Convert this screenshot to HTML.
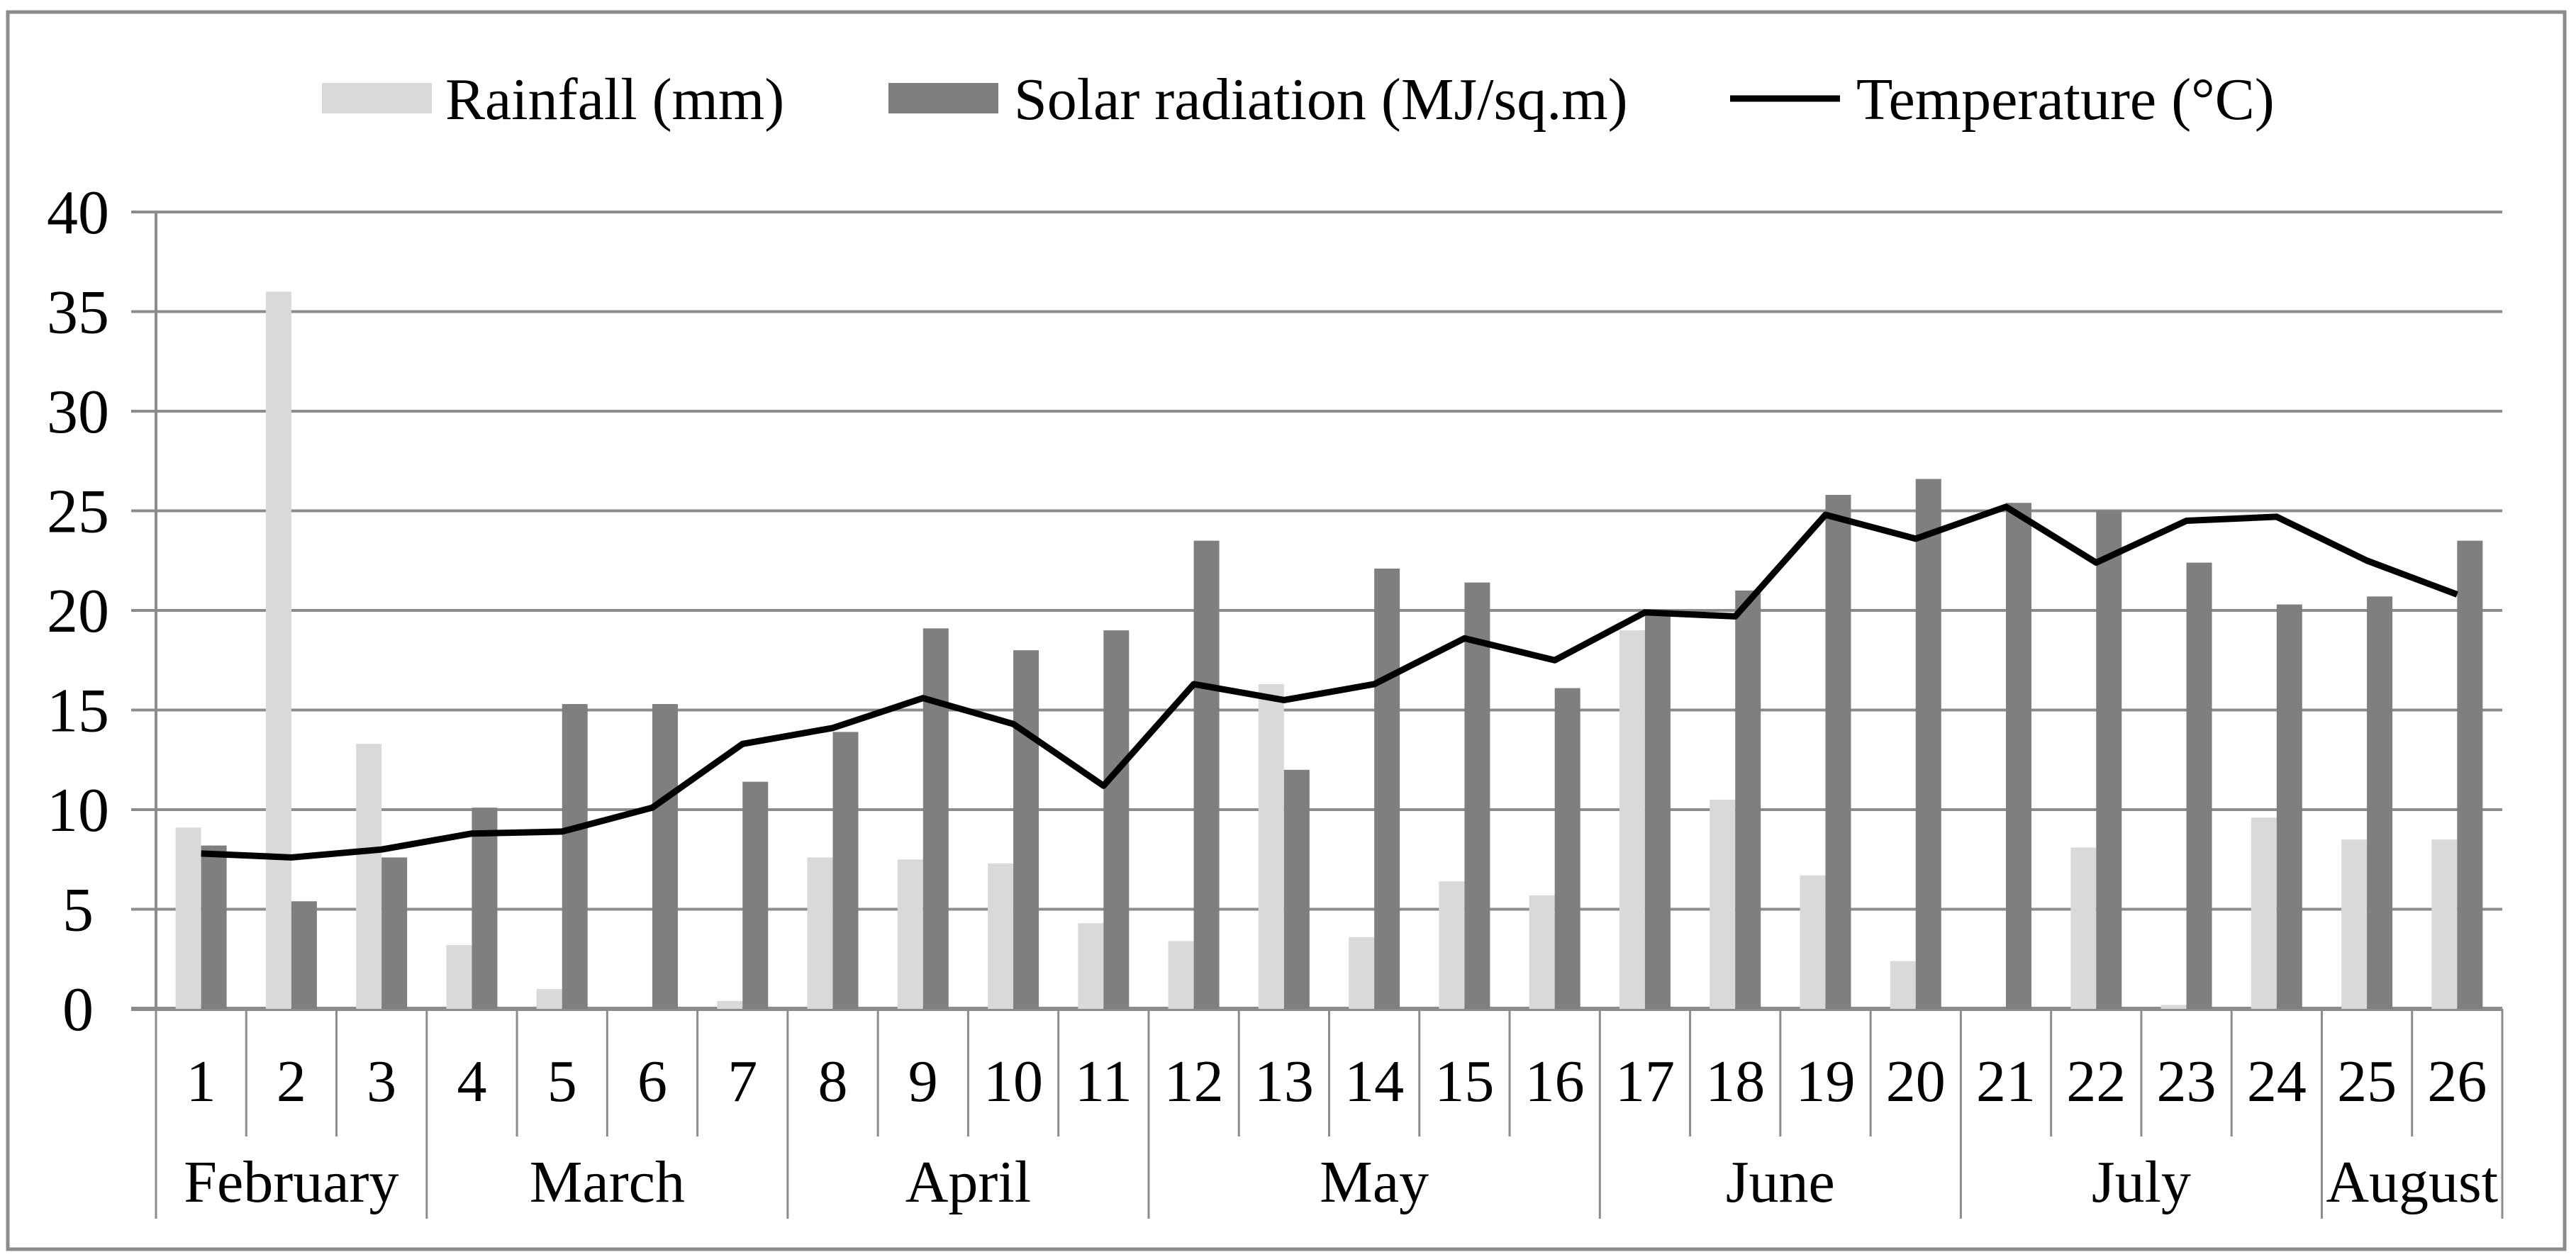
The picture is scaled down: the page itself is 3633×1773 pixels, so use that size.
<!DOCTYPE html>
<html><head><meta charset="utf-8"><style>
html,body{margin:0;padding:0;background:#fff}
svg{display:block;font-family:"Liberation Serif","Times New Roman",serif}
text{font-family:"Liberation Serif","Times New Roman",serif;fill:#000}
</style></head><body>
<svg id="chart" width="3633" height="1773" viewBox="0 0 3633 1773" font-family="Liberation Serif, Times New Roman, serif">
<rect x="11" y="17" width="3606" height="1745" fill="#fff" stroke="#8c8c8c" stroke-width="5"/>
<g id="grid"></g><g id="bars"></g><g id="line"></g><g id="axes"></g>
<g>
<g>
<rect x="454" y="117" width="155" height="43" fill="#d9d9d9"/>
<text x="628" y="168" font-size="84">Rainfall (mm)</text></g>
<g>
<rect x="1253" y="117" width="155" height="43" fill="#7f7f7f"/>
<text x="1430" y="168" font-size="84">Solar radiation (MJ/sq.m)</text></g>
<g>
<line x1="2440" y1="139" x2="2595" y2="139" stroke="#000" stroke-width="9"/>
<text x="2618" y="168" font-size="84">Temperature (°C)</text></g>
</g>
</svg>
<script>
const categories=["1","2","3","4","5","6","7","8","9","10","11","12","13","14","15","16","17","18","19","20","21","22","23","24","25","26"];
const rainfall=[9.1,36,13.3,3.2,1.0,0,0.4,7.6,7.5,7.3,4.3,3.4,16.3,3.6,6.4,5.7,19,10.5,6.7,2.4,0,8.1,0.2,9.6,8.5,8.5];
const solar=[8.2,5.4,7.6,10.1,15.3,15.3,11.4,13.9,19.1,18.0,19.0,23.5,12.0,22.1,21.4,16.1,19.8,21.0,25.8,26.6,25.4,25.0,22.4,20.3,20.7,23.5];
const temperature=[7.8,7.6,8.0,8.8,8.9,10.1,13.3,14.1,15.6,14.3,11.2,16.3,15.5,16.3,18.6,17.5,19.9,19.7,24.8,23.6,25.2,22.4,24.5,24.7,22.5,20.8];
const months=["February","March","April","May","June","July","August"];
const monthCounts=[3,4,4,5,4,4,2];
const yTicks=[0,5,10,15,20,25,30,35,40];

const NS="http://www.w3.org/2000/svg";
const L=220,R=3529,Y0=1423,Y40=299,YMAX=40;
const cw=(R-L)/categories.length;
const y=v=>Y0-(v/YMAX)*(Y0-Y40);
const xc=i=>L+cw*(i+0.5);
function mk(tag,attrs,parent,txt){const e=document.createElementNS(NS,tag);for(const k in attrs)e.setAttribute(k,attrs[k]);if(txt!==undefined)e.textContent=txt;document.getElementById(parent).appendChild(e);return e;}

yTicks.forEach(t=>{
  const g=mk('line',{x1:L-35,x2:R,y1:y(t),y2:y(t),stroke:'#8c8c8c','stroke-width':t===0?6:4},'grid');
  
  
  const tx=mk('text',{x:L-110,y:y(t)+30,'font-size':88,'text-anchor':'middle'},'axes',String(t));
  
  
});
const ax=mk('line',{x1:L,x2:L,y1:Y40,y2:Y0,stroke:'#8c8c8c','stroke-width':4},'grid');



const bw=36;
categories.forEach((c,i)=>{
  const r=mk('rect',{x:xc(i)-bw,y:y(rainfall[i]),width:bw,height:Y0-y(rainfall[i]),fill:'#d9d9d9'},'bars');
  
  
  const s=mk('rect',{x:xc(i),y:y(solar[i]),width:bw,height:Y0-y(solar[i]),fill:'#7f7f7f'},'bars');
  
  
  const t=mk('text',{x:xc(i),y:1553,'font-size':84,'text-anchor':'middle'},'axes',c);
  
  
});
let idx=0;const bounds=new Set([0]);monthCounts.forEach(n=>{idx+=n;bounds.add(idx);});
for(let i=0;i<=categories.length;i++){
  const d=mk('line',{x1:L+cw*i,x2:L+cw*i,y1:Y0,y2:bounds.has(i)?1719:1603,stroke:'#8c8c8c','stroke-width':3},'grid');
  
  
}
let start=0;
months.forEach((m,k)=>{
  const mid=L+cw*(start+monthCounts[k]/2);
  const t=mk('text',{x:mid,y:1695,'font-size':84,'text-anchor':'middle'},'axes',m);
  
  
  start+=monthCounts[k];
});
const pts=temperature.map((v,i)=>xc(i)+','+y(v)).join(' ');
const pl=mk('polyline',{points:pts,fill:'none',stroke:'#000','stroke-width':9,'stroke-linejoin':'round'},'line');


</script>
</body></html>
